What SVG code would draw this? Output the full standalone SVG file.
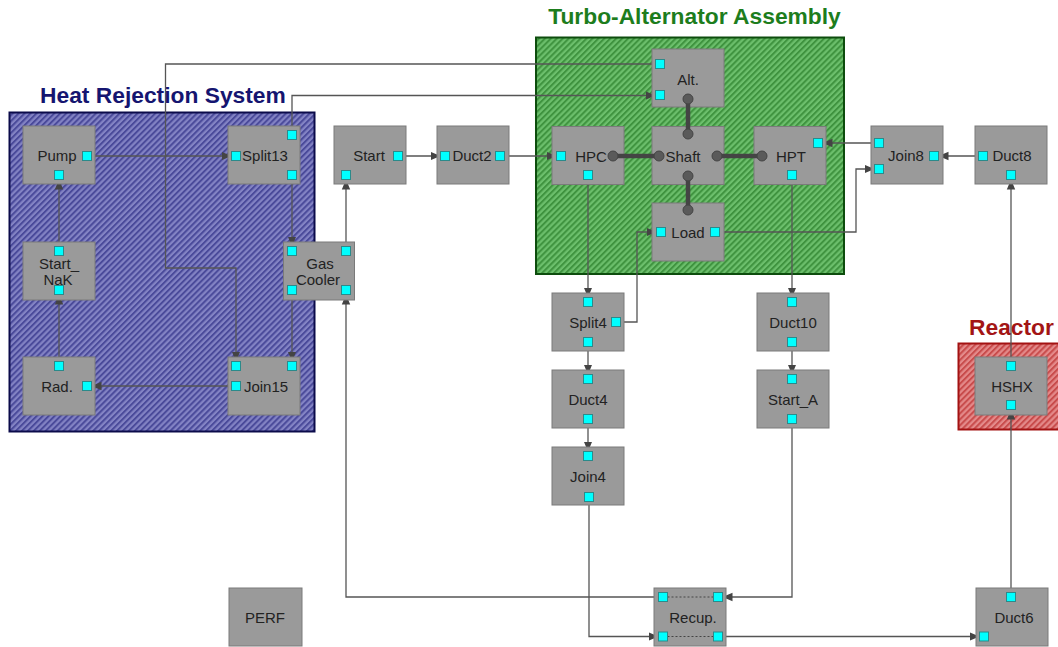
<svg xmlns="http://www.w3.org/2000/svg" width="1058" height="647" viewBox="0 0 1058 647">
<defs>
<pattern id="hBlue" patternUnits="userSpaceOnUse" width="4.2" height="4.2" patternTransform="rotate(45)">
<rect width="4.2" height="4.2" fill="#8383c4"/><rect width="2" height="4.2" fill="#4a4a9a"/>
</pattern>
<pattern id="hGreen" patternUnits="userSpaceOnUse" width="4.2" height="4.2" patternTransform="rotate(45)">
<rect width="4.2" height="4.2" fill="#6cbf6c"/><rect width="2" height="4.2" fill="#3f933f"/>
</pattern>
<pattern id="hRed" patternUnits="userSpaceOnUse" width="4.2" height="4.2" patternTransform="rotate(45)">
<rect width="4.2" height="4.2" fill="#e48a8a"/><rect width="2" height="4.2" fill="#c84c4c"/>
</pattern>
<marker id="arr" markerUnits="userSpaceOnUse" markerWidth="12" markerHeight="10" refX="10" refY="5" orient="auto">
<path d="M0,0.8 L10,5 L0,9.2 Z" fill="#444"/>
</marker>
<style>
.grp{stroke-width:2}
.title{font-family:"Liberation Sans",Arial,sans-serif;font-weight:bold;font-size:22.8px}
.node rect.b{fill:#9a9a9a;stroke:#7a7a7a;stroke-width:1}
.lbl{font-family:"Liberation Sans",Arial,sans-serif;font-size:15px;fill:#222;text-anchor:middle}
.p{fill:#00ffff;stroke:#2b8a8a;stroke-width:1}
.c{fill:#5a5a5a;stroke:#444;stroke-width:1}
.cn path{fill:none;stroke:#555;stroke-width:1.3}
.cn path.a{marker-end:url(#arr)}
.sh path{stroke:#444;stroke-width:4.5;fill:none}
.dot{stroke:#444;stroke-width:1;stroke-dasharray:2,2;fill:none}
</style>
</defs>
<rect width="1058" height="647" fill="#ffffff"/>

<g id="grp-heat">
<rect class="grp" x="9.5" y="112.5" width="305" height="319" fill="url(#hBlue)" stroke="#0b0b4a"/>
<text class="title" x="40" y="103" fill="#151570">Heat Rejection System</text>
</g>
<g id="grp-turbo">
<rect class="grp" x="536" y="37.5" width="308" height="236.5" fill="url(#hGreen)" stroke="#0d4d0d"/>
<text class="title" x="694.5" y="24" fill="#1d7d1d" text-anchor="middle">Turbo-Alternator Assembly</text>
</g>
<g id="grp-reactor">
<rect class="grp" x="958.5" y="343.5" width="110" height="86" fill="url(#hRed)" stroke="#a31212"/>
<text class="title" x="969" y="335" fill="#a31515">Reactor</text>
</g>

<g id="connectors" class="cn">
<path class="a" d="M91.5,156 H231.5"/>
<path class="a" d="M292,179.5 V246.5"/>
<path class="a" d="M292,294.5 V361.5"/>
<path class="a" d="M231.5,386 H91.5"/>
<path class="a" d="M59,361.5 V294.5"/>
<path class="a" d="M59,246.5 V179.5"/>
<path class="a" d="M655.5,64 H165.5 V268 H236 V361.5"/>
<path class="a" d="M292,130.5 V95.5 H655.5"/>
<path class="a" d="M346,246.5 V179.5"/>
<path class="a" d="M402.5,156 H440.5"/>
<path class="a" d="M504.5,156 H556.5"/>
<path class="a" d="M874.5,143 H822.5"/>
<path class="a" d="M978.5,156 H938.5"/>
<path class="a" d="M719.5,232 H856 V169 H874.5"/>
<path class="a" d="M588,179.5 V297.5"/>
<path class="a" d="M620.5,322 H637 V232 H656.5"/>
<path class="a" d="M588,346.5 V374.5"/>
<path class="a" d="M588,423.5 V451.5"/>
<path class="a" d="M589,501.5 V636.5 H658.5"/>
<path class="a" d="M792,179.5 V297.5"/>
<path class="a" d="M792,346.5 V374.5"/>
<path class="a" d="M792,423.5 V597 H722.5"/>
<path class="a" d="M658.5,597 H346 V294.5"/>
<path class="a" d="M722.5,636.5 H979.5"/>
<path class="a" d="M1011,592.5 V409.5"/>
<path class="a" d="M1011,361.5 V179.5"/>
</g>

<g id="pump" class="node"><rect class="b" x="23" y="126" width="72" height="58"/><text class="lbl" x="57" y="161">Pump</text><rect class="p" x="82.5" y="151.5" width="9" height="9"/><rect class="p" x="54.5" y="170.5" width="9" height="9"/></g>
<g id="split13" class="node"><rect class="b" x="228" y="126" width="72" height="58"/><text class="lbl" x="265" y="161">Split13</text><rect class="p" x="231.5" y="151.5" width="9" height="9"/><rect class="p" x="287.5" y="130.5" width="9" height="9"/><rect class="p" x="287.5" y="170.5" width="9" height="9"/></g>
<g id="start-nak" class="node"><rect class="b" x="23" y="242" width="72" height="58"/><text class="lbl" x="59" y="268.5">Start_</text><text class="lbl" x="58" y="284.5">NaK</text><rect class="p" x="54.5" y="246.5" width="9" height="9"/><rect class="p" x="54.5" y="285.5" width="9" height="9"/></g>
<g id="gas-cooler" class="node"><rect class="b" x="283.5" y="242" width="71" height="58"/><text class="lbl" x="320" y="268.5">Gas</text><text class="lbl" x="318" y="284.5">Cooler</text><rect class="p" x="287.5" y="246.5" width="9" height="9"/><rect class="p" x="341.5" y="246.5" width="9" height="9"/><rect class="p" x="287.5" y="285.5" width="9" height="9"/><rect class="p" x="341.5" y="285.5" width="9" height="9"/></g>
<g id="rad" class="node"><rect class="b" x="23" y="357" width="72" height="58"/><text class="lbl" x="57" y="391.5">Rad.</text><rect class="p" x="54.5" y="361.5" width="9" height="9"/><rect class="p" x="82.5" y="381.5" width="9" height="9"/></g>
<g id="join15" class="node"><rect class="b" x="228" y="357" width="72" height="58"/><text class="lbl" x="266" y="391.5">Join15</text><rect class="p" x="231.5" y="361.5" width="9" height="9"/><rect class="p" x="287.5" y="361.5" width="9" height="9"/><rect class="p" x="231.5" y="381.5" width="9" height="9"/></g>
<g id="start" class="node"><rect class="b" x="334" y="126" width="72" height="58"/><text class="lbl" x="369" y="161">Start</text><rect class="p" x="393.5" y="151.5" width="9" height="9"/><rect class="p" x="341.5" y="170.5" width="9" height="9"/></g>
<g id="duct2" class="node"><rect class="b" x="437" y="126" width="72" height="58"/><text class="lbl" x="472" y="161">Duct2</text><rect class="p" x="440.5" y="151.5" width="9" height="9"/><rect class="p" x="495.5" y="151.5" width="9" height="9"/></g>
<g id="alt" class="node"><rect class="b" x="652" y="49" width="72" height="58"/><text class="lbl" x="688" y="85">Alt.</text><rect class="p" x="655.5" y="59.5" width="9" height="9"/><rect class="p" x="655.5" y="90.5" width="9" height="9"/></g>
<g id="hpc" class="node"><rect class="b" x="552" y="126.5" width="72" height="58"/><text class="lbl" x="591" y="161.5">HPC</text><rect class="p" x="556.5" y="151.5" width="9" height="9"/><rect class="p" x="583.5" y="170.5" width="9" height="9"/></g>
<g id="shaft" class="node"><rect class="b" x="652" y="126.5" width="72" height="58"/><text class="lbl" x="683" y="161.5">Shaft</text></g>
<g id="hpt" class="node"><rect class="b" x="754" y="126.5" width="72" height="58"/><text class="lbl" x="791" y="161.5">HPT</text><rect class="p" x="813.5" y="138.5" width="9" height="9"/><rect class="p" x="787.5" y="170.5" width="9" height="9"/></g>
<g id="load" class="node"><rect class="b" x="652" y="203" width="72" height="58"/><text class="lbl" x="688" y="237.5">Load</text><rect class="p" x="656.5" y="227.5" width="9" height="9"/><rect class="p" x="710.5" y="227.5" width="9" height="9"/></g>
<g id="join8" class="node"><rect class="b" x="871" y="126" width="72" height="58"/><text class="lbl" x="906" y="161">Join8</text><rect class="p" x="874.5" y="138.5" width="9" height="9"/><rect class="p" x="874.5" y="164.5" width="9" height="9"/><rect class="p" x="929.5" y="151.5" width="9" height="9"/></g>
<g id="duct8" class="node"><rect class="b" x="975" y="126" width="72" height="58"/><text class="lbl" x="1012" y="161">Duct8</text><rect class="p" x="978.5" y="151.5" width="9" height="9"/><rect class="p" x="1006.5" y="170.5" width="9" height="9"/></g>
<g id="hshx" class="node"><rect class="b" x="975" y="357" width="72" height="58"/><text class="lbl" x="1012" y="391.5">HSHX</text><rect class="p" x="1006.5" y="361.5" width="9" height="9"/><rect class="p" x="1006.5" y="400.5" width="9" height="9"/></g>
<g id="split4" class="node"><rect class="b" x="552" y="293" width="72" height="58"/><text class="lbl" x="588" y="327.5">Split4</text><rect class="p" x="583.5" y="297.5" width="9" height="9"/><rect class="p" x="611.5" y="317.5" width="9" height="9"/><rect class="p" x="583.5" y="337.5" width="9" height="9"/></g>
<g id="duct4" class="node"><rect class="b" x="552" y="370" width="72" height="58"/><text class="lbl" x="588" y="404.5">Duct4</text><rect class="p" x="583.5" y="374.5" width="9" height="9"/><rect class="p" x="583.5" y="414.5" width="9" height="9"/></g>
<g id="join4" class="node"><rect class="b" x="552" y="447" width="72" height="58"/><text class="lbl" x="588" y="481.5">Join4</text><rect class="p" x="583.5" y="451.5" width="9" height="9"/><rect class="p" x="584.5" y="492.5" width="9" height="9"/></g>
<g id="duct10" class="node"><rect class="b" x="757" y="293" width="72" height="58"/><text class="lbl" x="793" y="327.5">Duct10</text><rect class="p" x="787.5" y="297.5" width="9" height="9"/><rect class="p" x="787.5" y="337.5" width="9" height="9"/></g>
<g id="start-a" class="node"><rect class="b" x="757" y="370" width="72" height="58"/><text class="lbl" x="793" y="404.5">Start_A</text><rect class="p" x="787.5" y="374.5" width="9" height="9"/><rect class="p" x="787.5" y="414.5" width="9" height="9"/></g>
<g id="recup" class="node"><rect class="b" x="654" y="588" width="72" height="58"/><path class="dot" d="M667.5,597 H713.5 M667.5,636.5 H713.5"/><text class="lbl" x="693" y="622.5">Recup.</text><rect class="p" x="658.5" y="592.5" width="9" height="9"/><rect class="p" x="713.5" y="592.5" width="9" height="9"/><rect class="p" x="658.5" y="632" width="9" height="9"/><rect class="p" x="713.5" y="632" width="9" height="9"/></g>
<g id="duct6" class="node"><rect class="b" x="976" y="588" width="72" height="58"/><text class="lbl" x="1014" y="622.5">Duct6</text><rect class="p" x="1006.5" y="592.5" width="9" height="9"/><rect class="p" x="979.5" y="632" width="9" height="9"/></g>
<g id="perf" class="node"><rect class="b" x="229" y="588" width="73" height="58"/><text class="lbl" x="265" y="622.5">PERF</text></g>

<g id="shaft-connectors" class="sh">
<path d="M613,156 H659"/>
<path d="M717,156 H762"/>
<path d="M688,99 V134"/>
<path d="M688,176 V210"/>
<circle class="c" cx="688" cy="99" r="5"/>
<circle class="c" cx="613" cy="156" r="5"/>
<circle class="c" cx="659" cy="156" r="5"/>
<circle class="c" cx="717" cy="156" r="5"/>
<circle class="c" cx="688" cy="134" r="5"/>
<circle class="c" cx="688" cy="176" r="5"/>
<circle class="c" cx="762" cy="156" r="5"/>
<circle class="c" cx="688" cy="210" r="5"/>
</g>
</svg>
